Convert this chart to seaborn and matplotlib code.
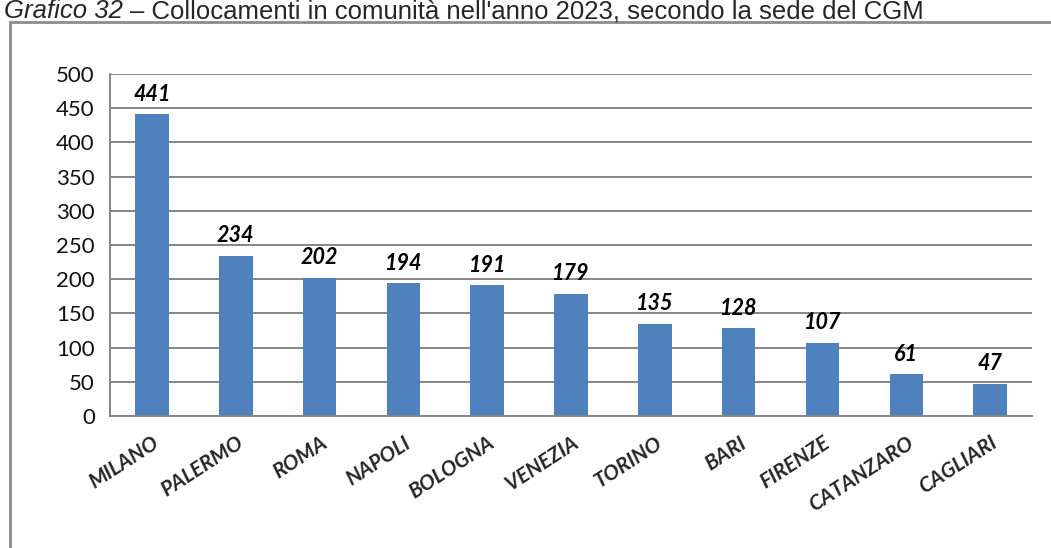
import matplotlib
matplotlib.use("Agg")
import matplotlib.pyplot as plt
import seaborn as sns
import pandas as pd
from matplotlib.patches import Rectangle
from matplotlib.ticker import MultipleLocator

# Data
CITIES = ["MILANO", "PALERMO", "ROMA", "NAPOLI", "BOLOGNA", "VENEZIA",
          "TORINO", "BARI", "FIRENZE", "CATANZARO", "CAGLIARI"]
VALUES = [441, 234, 202, 194, 191, 179, 135, 128, 107, 61, 47]

df = pd.DataFrame({"city": CITIES, "n": VALUES})

BLUE = "#4F81BD"
GRID = "#858585"

sns.set_style("white")
plt.rcParams["font.family"] = ["Lato", "DejaVu Sans"]

fig = plt.figure(figsize=(10.51, 5.48), dpi=100)
ax = fig.add_axes([0.1047, 0.2409, 0.8773, 0.6241])

sns.barplot(data=df, x="city", y="n", color=BLUE, width=0.4, ax=ax,
            saturation=1, edgecolor="none")

ax.set_ylim(0, 500)
ax.set_xlim(-0.5, len(CITIES) - 0.5)
ax.yaxis.set_major_locator(MultipleLocator(50))
ax.grid(axis="y", color=GRID, lw=1.4)
ax.set_axisbelow(True)
ax.set_xlabel("")
ax.set_ylabel("")

for s in ["top", "right"]:
    ax.spines[s].set_visible(False)
for s in ["left", "bottom"]:
    ax.spines[s].set_color(GRID)
    ax.spines[s].set_linewidth(1.4)

# category boundary ticks like the original
ax.set_xticks([i - 0.5 for i in range(len(CITIES) + 1)], minor=True)
ax.tick_params(axis="x", which="minor", length=6, width=1.4, color=GRID, direction="out")
ax.tick_params(axis="x", which="major", length=0, pad=12)
ax.tick_params(axis="y", length=6, width=1.4, color=GRID, direction="out",
               labelsize=16, pad=5, labelcolor="#111111")
ax.set_xticks(range(len(CITIES)))
ax.set_xticklabels(CITIES, rotation=33, ha="right", rotation_mode="anchor",
                   fontsize=15, fontweight="bold", fontstyle="italic")

for i, v in enumerate(VALUES):
    ax.annotate(str(v), (i, v), xytext=(0, 7), textcoords="offset points",
                ha="center", va="bottom", fontsize=15.5, fontweight="bold",
                fontstyle="italic", color="black")

# outer chart frame (extends past right/bottom edges)
fig.patches.append(Rectangle((10 / 1051, -0.1), 1.2, 1 - 22 / 548 + 0.1,
                             transform=fig.transFigure, fill=False,
                             edgecolor="#8C8C8C", lw=2))

t1 = fig.text(4 / 1051, 1 - 18 / 548, "Grafico 32 ", fontsize=18.5, fontstyle="italic",
              family="Liberation Sans", va="baseline", ha="left")
fig.canvas.draw()
x_end = t1.get_window_extent().x1 / 1051
fig.text(x_end, 1 - 18 / 548, "– Collocamenti in comunità nell'anno 2023, secondo la sede del CGM",
         fontsize=18.5, family="Liberation Sans", va="baseline", ha="left")

fig.savefig("out.png", dpi=100)
